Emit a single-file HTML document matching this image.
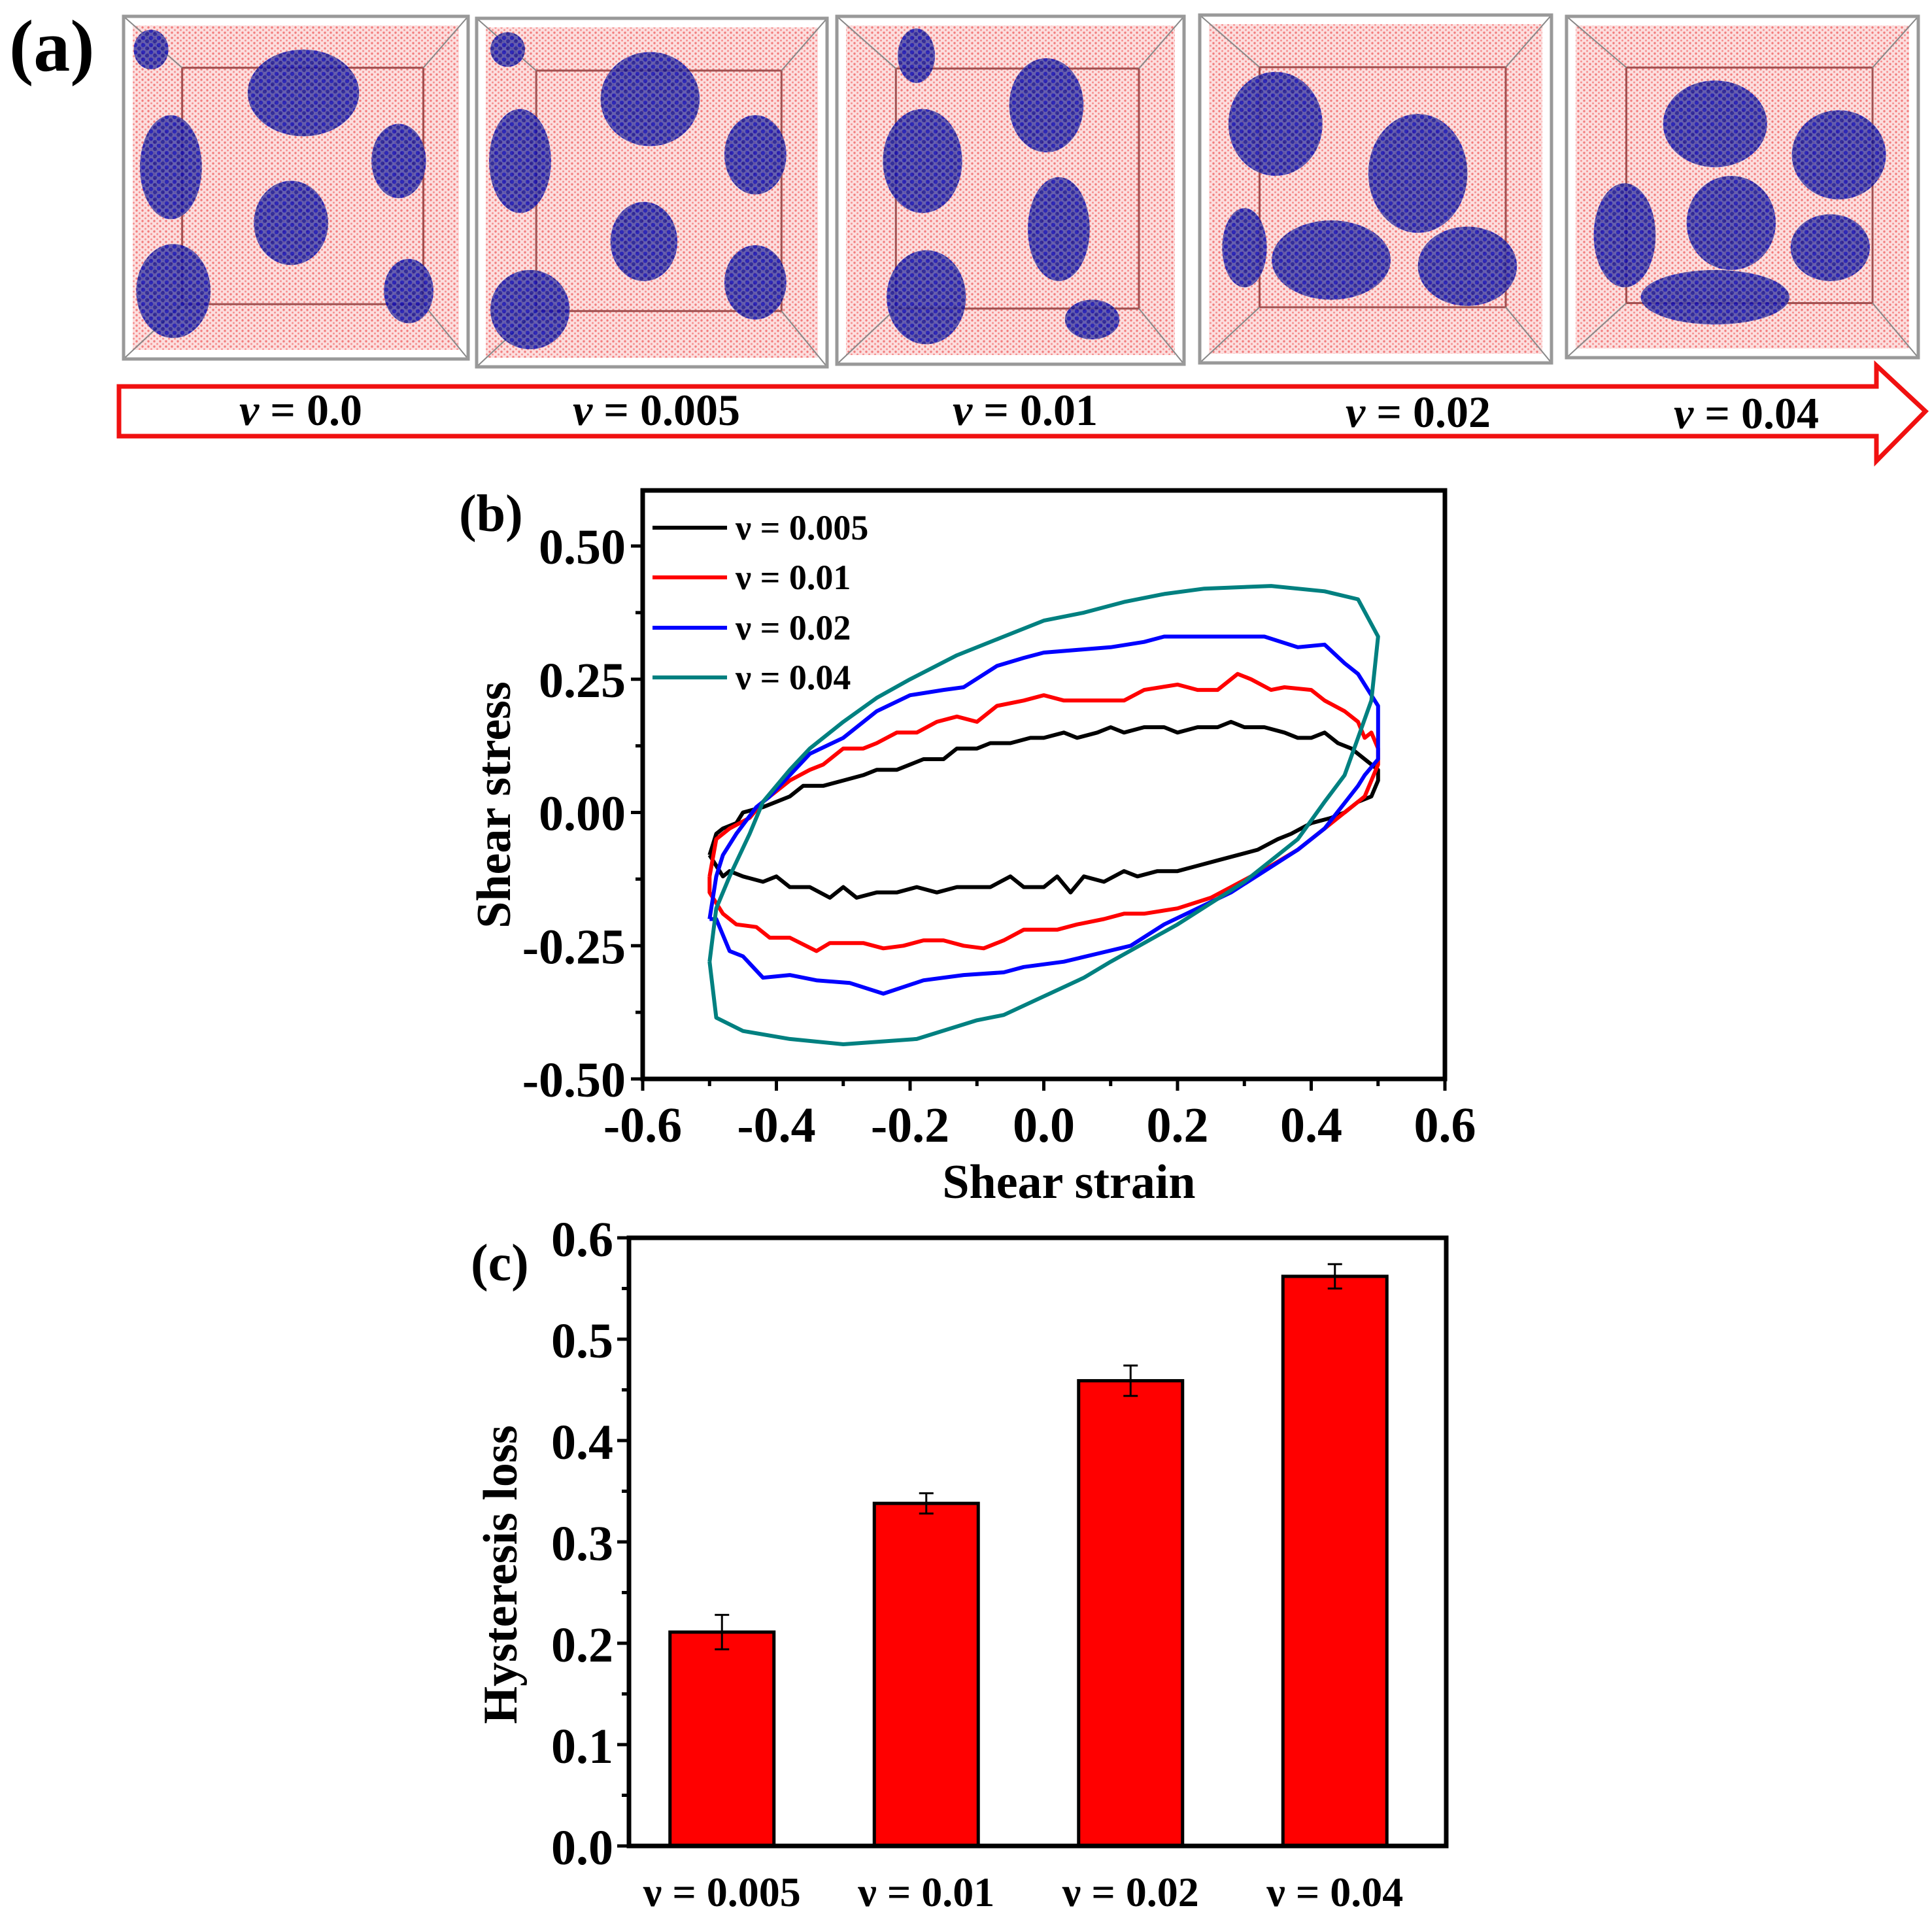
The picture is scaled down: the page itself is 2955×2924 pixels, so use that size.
<!DOCTYPE html>
<html><head><meta charset="utf-8"><style>
body{margin:0;background:#fff;}
svg{display:block;font-family:"Liberation Serif",serif;font-weight:bold;}
</style></head><body>
<svg id="fig" width="2955" height="2924" viewBox="0 0 2955 2924" xmlns="http://www.w3.org/2000/svg">
<defs>
<pattern id="pinkdots" width="9" height="8" patternUnits="userSpaceOnUse">
<rect width="9" height="8" fill="#fcdede"/>
<circle cx="2" cy="2" r="1.7" fill="#f27c7c"/><circle cx="6.5" cy="6" r="1.5" fill="#f59090"/>
</pattern>
<pattern id="bluedots" width="12" height="11" patternUnits="userSpaceOnUse">
<rect width="12" height="11" fill="#4a4aa8"/>
<circle cx="3" cy="3" r="3.2" fill="#0a0ab0"/><circle cx="9" cy="8" r="3" fill="#101090"/>
</pattern>
</defs>
<text x="14" y="108" font-size="112">(a)</text>
<g id="boxes"></g>
<polygon points="182,591 2870,591 2870,559 2945,629 2870,705 2870,667 182,667" fill="#fff" stroke="#f01010" stroke-width="7"/>
<g font-size="68" text-anchor="middle">
<text x="460" y="650"><tspan font-style="italic">ν</tspan> = 0.0</text>
<text x="1004" y="650"><tspan font-style="italic">ν</tspan> = 0.005</text>
<text x="1568" y="650"><tspan font-style="italic">ν</tspan> = 0.01</text>
<text x="2169" y="653"><tspan font-style="italic">ν</tspan> = 0.02</text>
<text x="2671" y="655"><tspan font-style="italic">ν</tspan> = 0.04</text>
</g>
<g id="chartB"></g>
<g id="chartC"></g>
</svg>
<script>
// ---- Panel (b) data ----
const bSeriesNames = ["ν = 0.005","ν = 0.01","ν = 0.02","ν = 0.04"];
const bColors = ["#000000","#ff0000","#0000ff","#008080"];
const bXTicks = [-0.6,-0.4,-0.2,0.0,0.2,0.4,0.6];
const bYTicks = [-0.50,-0.25,0.00,0.25,0.50];
const loop005 = [[-0.5,-0.08],[-0.49,-0.04],[-0.48,-0.03],[-0.46,-0.02],[-0.45,0.0],[-0.42,0.01],[-0.4,0.02],[-0.38,0.03],[-0.36,0.05],[-0.33,0.05],[-0.3,0.06],[-0.27,0.07],[-0.25,0.08],[-0.22,0.08],[-0.2,0.09],[-0.18,0.1],[-0.15,0.1],[-0.13,0.12],[-0.1,0.12],[-0.08,0.13],[-0.05,0.13],[-0.02,0.14],[0.0,0.14],[0.03,0.15],[0.05,0.14],[0.08,0.15],[0.1,0.16],[0.12,0.15],[0.15,0.16],[0.18,0.16],[0.2,0.15],[0.23,0.16],[0.26,0.16],[0.28,0.17],[0.3,0.16],[0.33,0.16],[0.36,0.15],[0.38,0.14],[0.4,0.14],[0.42,0.15],[0.44,0.13],[0.46,0.12],[0.48,0.1],[0.5,0.08],
[0.5,0.06],[0.49,0.03],[0.47,0.02],[0.45,0.0],[0.43,-0.01],[0.4,-0.02],[0.37,-0.04],[0.35,-0.05],[0.32,-0.07],[0.29,-0.08],[0.26,-0.09],[0.23,-0.1],[0.2,-0.11],[0.17,-0.11],[0.14,-0.12],[0.12,-0.11],[0.09,-0.13],[0.06,-0.12],[0.04,-0.15],[0.02,-0.12],[0.0,-0.14],[-0.03,-0.14],[-0.05,-0.12],[-0.08,-0.14],[-0.1,-0.14],[-0.13,-0.14],[-0.16,-0.15],[-0.19,-0.14],[-0.22,-0.15],[-0.25,-0.15],[-0.28,-0.16],[-0.3,-0.14],[-0.32,-0.16],[-0.35,-0.14],[-0.38,-0.14],[-0.4,-0.12],[-0.42,-0.13],[-0.45,-0.12],[-0.47,-0.11],[-0.48,-0.12],[-0.49,-0.1],[-0.5,-0.08]];
const loop01 = [[-0.5,-0.12],[-0.49,-0.05],[-0.47,-0.03],[-0.44,-0.01],[-0.42,0.02],[-0.38,0.06],[-0.35,0.08],[-0.33,0.09],[-0.3,0.12],[-0.27,0.12],[-0.25,0.13],[-0.22,0.15],[-0.19,0.15],[-0.16,0.17],[-0.13,0.18],[-0.1,0.17],[-0.07,0.2],[-0.03,0.21],[0.0,0.22],[0.03,0.21],[0.08,0.21],[0.12,0.21],[0.15,0.23],[0.2,0.24],[0.23,0.23],[0.26,0.23],[0.29,0.26],[0.31,0.25],[0.34,0.23],[0.36,0.235],[0.4,0.23],[0.42,0.21],[0.45,0.19],[0.47,0.17],[0.48,0.14],[0.49,0.15],[0.5,0.12],
[0.5,0.09],[0.48,0.03],[0.46,0.01],[0.42,-0.03],[0.38,-0.07],[0.34,-0.1],[0.31,-0.12],[0.28,-0.14],[0.25,-0.16],[0.2,-0.18],[0.15,-0.19],[0.12,-0.19],[0.09,-0.2],[0.05,-0.21],[0.02,-0.22],[-0.03,-0.22],[-0.06,-0.24],[-0.09,-0.255],[-0.12,-0.25],[-0.15,-0.24],[-0.18,-0.24],[-0.21,-0.25],[-0.24,-0.255],[-0.27,-0.245],[-0.32,-0.245],[-0.34,-0.26],[-0.38,-0.235],[-0.41,-0.235],[-0.43,-0.215],[-0.46,-0.21],[-0.48,-0.19],[-0.5,-0.15],[-0.5,-0.12]];
const loop02 = [[-0.5,-0.2],[-0.49,-0.12],[-0.48,-0.08],[-0.46,-0.04],[-0.43,0.01],[-0.41,0.03],[-0.38,0.07],[-0.35,0.11],[-0.3,0.14],[-0.25,0.19],[-0.2,0.22],[-0.15,0.23],[-0.12,0.235],[-0.07,0.275],[-0.03,0.29],[0.0,0.3],[0.05,0.305],[0.1,0.31],[0.15,0.32],[0.18,0.33],[0.25,0.33],[0.33,0.33],[0.38,0.31],[0.42,0.315],[0.45,0.28],[0.47,0.26],[0.49,0.22],[0.5,0.2],
[0.5,0.1],[0.48,0.07],[0.47,0.05],[0.42,-0.03],[0.38,-0.07],[0.33,-0.11],[0.28,-0.15],[0.23,-0.18],[0.18,-0.21],[0.13,-0.25],[0.08,-0.265],[0.03,-0.28],[-0.03,-0.29],[-0.06,-0.3],[-0.12,-0.305],[-0.18,-0.315],[-0.24,-0.34],[-0.29,-0.32],[-0.34,-0.315],[-0.38,-0.305],[-0.42,-0.31],[-0.45,-0.27],[-0.47,-0.26],[-0.49,-0.2],[-0.5,-0.2]];
const loop04 = [[-0.5,-0.28],[-0.49,-0.18],[-0.47,-0.12],[-0.44,-0.04],[-0.42,0.02],[-0.38,0.08],[-0.35,0.12],[-0.3,0.17],[-0.25,0.215],[-0.2,0.25],[-0.13,0.295],[-0.06,0.33],[0.0,0.36],[0.06,0.375],[0.12,0.395],[0.18,0.41],[0.24,0.42],[0.34,0.425],[0.42,0.415],[0.47,0.4],[0.5,0.33],
[0.49,0.21],[0.47,0.14],[0.45,0.07],[0.42,0.02],[0.38,-0.05],[0.3,-0.13],[0.2,-0.21],[0.1,-0.28],[0.06,-0.31],[0.0,-0.345],[-0.06,-0.38],[-0.1,-0.39],[-0.19,-0.425],[-0.3,-0.435],[-0.38,-0.425],[-0.45,-0.41],[-0.49,-0.385],[-0.5,-0.28]];
const bLoops = [loop005, loop01, loop02, loop04];
// ---- Panel (c) data ----
const cCategories = ["ν = 0.005","ν = 0.01","ν = 0.02","ν = 0.04"];
const cValues = [0.211, 0.338, 0.459, 0.562];
const cErrors = [0.017, 0.010, 0.015, 0.012];
const cYTicks = [0.0,0.1,0.2,0.3,0.4,0.5,0.6];

const NS="http://www.w3.org/2000/svg";
function mk(tag, attrs, parent){const e=document.createElementNS(NS,tag);for(const k in attrs)e.setAttribute(k,attrs[k]);parent.appendChild(e);return e;}

// ---- Panel (a) snapshots (illustration, not data) ----
const boxesG=document.getElementById('boxes');
const boxRects=[[189,25,527,524],[729,28,536,533],[1280,25,531,532],[1835,23,538,532],[2396,25,538,522]];
const blobs=[
 [[245,75,45,35],[138,135,25,42],[322,130,22,30],[235,180,30,34],[140,235,30,38],[330,235,20,26],[122,40,14,16]],
 [[525,80,40,38],[420,130,25,42],[610,125,25,32],[520,195,27,32],[428,250,32,32],[610,228,25,30],[410,40,14,14]],
 [[745,130,32,42],[845,85,30,38],[855,185,25,42],[748,240,32,38],[740,45,15,22],[882,258,22,16]],
 [[1030,100,38,42],[1145,140,40,48],[1075,210,48,32],[1185,215,40,32],[1005,200,18,32]],
 [[1385,100,42,35],[1485,125,38,36],[1398,180,36,38],[1478,200,32,27],[1312,190,25,42],[1385,240,60,22]]
];
boxRects.forEach((b,i)=>{
 const [x,y,w,h]=b;
 const g=mk('g',{},boxesG);
 
 
 mk('rect',{x:x+14,y:y+14,width:w-28,height:h-28,fill:'url(#pinkdots)'},g);
 const ix=x+w*0.17, iy=y+h*0.15, iw=w*0.7, ih=h*0.69;
 mk('rect',{x:ix,y:iy,width:iw,height:ih,fill:'none',stroke:'#a05050','stroke-width':3},g);
 [[x,y,ix,iy],[x+w,y,ix+iw,iy],[x,y+h,ix,iy+ih],[x+w,y+h,ix+iw,iy+ih]].forEach(l=>mk('line',{x1:l[0],y1:l[1],x2:l[2],y2:l[3],stroke:'#888','stroke-width':2},g));
 blobs[i].forEach(bl=>mk('ellipse',{cx:bl[0]*1.894,cy:bl[1]*1.894,rx:bl[2]*1.894,ry:bl[3]*1.894,fill:'url(#bluedots)',opacity:0.85},g));
 mk('rect',{x:x,y:y,width:w,height:h,fill:'none',stroke:'#999','stroke-width':5},g);
});

// ---- Panel (b) ----
const gB=document.getElementById('chartB');
const BL=983,BR=2210,BT=750,BB=1650;
const bx=v=>BL+(v+0.6)/1.2*(BR-BL);
const by=v=>BB-(v+0.5)/1.0*(1650-835);
bLoops.forEach((pts,i)=>{
 const p=mk('polyline',{points:pts.map(q=>bx(q[0]).toFixed(1)+','+by(q[1]).toFixed(1)).join(' '),fill:'none',stroke:bColors[i],'stroke-width':6,'stroke-linejoin':'round'},gB);
 
 
});
const fB=mk('rect',{x:BL,y:BT,width:BR-BL,height:BB-BT,fill:'none',stroke:'#000','stroke-width':7},gB);


for(let v=-0.6;v<=0.6001;v+=0.1){const maj=Math.abs(Math.round(v*10))%2===0;mk('line',{x1:bx(v),y1:BB,x2:bx(v),y2:BB+(maj?18:11),stroke:'#000','stroke-width':5},gB);}
for(let v=-0.5;v<=0.6;v+=0.125){const maj=Math.abs(Math.round(v*8))%2===0;mk('line',{x1:BL,y1:by(v),x2:BL-(maj?18:11),y2:by(v),stroke:'#000','stroke-width':5},gB);}
bXTicks.forEach(v=>{const t=mk('text',{x:bx(v),y:1746,'font-size':76,'text-anchor':'middle'},gB);t.textContent=v.toFixed(1);
 
 });
bYTicks.forEach(v=>{const t=mk('text',{x:957,y:by(v)+27,'font-size':76,'text-anchor':'end'},gB);t.textContent=v.toFixed(2);
 
 });
const lbB=mk('text',{x:702,y:812,'font-size':80},gB);lbB.textContent='(b)';


const xtB=mk('text',{x:1635,y:1832,'font-size':74,'text-anchor':'middle'},gB);xtB.textContent='Shear strain';


const ytB=mk('text',{x:0,y:0,'font-size':74,'text-anchor':'middle',transform:'translate(780,1231) rotate(-90)'},gB);ytB.textContent='Shear stress';


const legY=[807,883,960,1036];
bSeriesNames.forEach((n,i)=>{
 const lg=mk('g',{},gB);
 
 
 mk('line',{x1:998,y1:legY[i],x2:1112,y2:legY[i],stroke:bColors[i],'stroke-width':6},lg);
 const t=mk('text',{x:1125,y:legY[i]+18,'font-size':54},lg);t.textContent=n;
});

// ---- Panel (c) ----
const gC=document.getElementById('chartC');
const CL=962,CR=2212,CT=1893,CB=2823;
const cy=v=>CB-v/0.6*(CB-CT);
const cx=i=>CL+(i+0.5)/cCategories.length*(CR-CL)-14;
const bw=159;
cValues.forEach((v,i)=>{
 const r=mk('rect',{x:cx(i)-bw/2,y:cy(v),width:bw,height:CB-cy(v),fill:'#ff0000',stroke:'#000','stroke-width':5},gC);
 
 
 const e=mk('path',{d:`M${cx(i)},${cy(v+cErrors[i])}V${cy(v-cErrors[i])}M${cx(i)-11},${cy(v+cErrors[i])}H${cx(i)+11}M${cx(i)-11},${cy(v-cErrors[i])}H${cx(i)+11}`,stroke:'#000','stroke-width':3,fill:'none'},gC);
 
 
 const t=mk('text',{x:cx(i),y:2915,'font-size':64,'text-anchor':'middle'},gC);t.textContent=cCategories[i];
 
 
});
const fC=mk('rect',{x:CL,y:CT,width:CR-CL,height:CB-CT,fill:'none',stroke:'#000','stroke-width':7},gC);


for(let k=0;k<=12;k++){const v=k*0.05;mk('line',{x1:CL,y1:cy(v),x2:CL-(k%2===0?18:11),y2:cy(v),stroke:'#000','stroke-width':5},gC);}
cYTicks.forEach(v=>{const t=mk('text',{x:938,y:cy(v)+28,'font-size':76,'text-anchor':'end'},gC);t.textContent=v.toFixed(1);
 
 });
const lbC=mk('text',{x:720,y:1958,'font-size':80},gC);lbC.textContent='(c)';


const ytC=mk('text',{x:0,y:0,'font-size':74,'text-anchor':'middle',transform:'translate(790,2408) rotate(-90)'},gC);ytC.textContent='Hysteresis loss';


</script>
</body></html>
